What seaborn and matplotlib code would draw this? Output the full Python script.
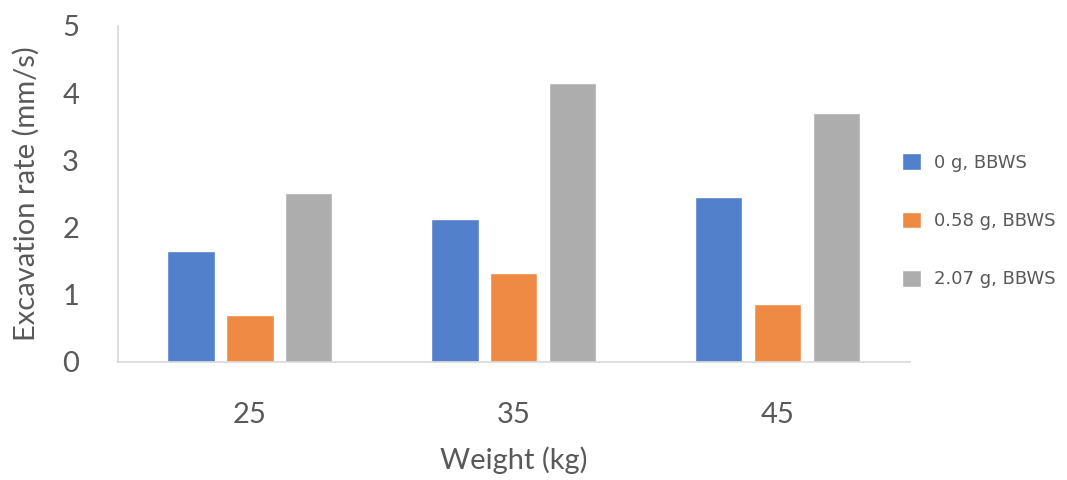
import matplotlib
matplotlib.use("Agg")
import matplotlib.pyplot as plt
import seaborn as sns
import pandas as pd

weights = ["25", "35", "45"]
series = ["0 g, BBWS", "0.58 g, BBWS", "2.07 g, BBWS"]
vals_0 = [1.65, 2.12, 2.45]
vals_058 = [0.70, 1.33, 0.86]
vals_207 = [2.52, 4.15, 3.70]
colors = ["#5380cb", "#ef8a45", "#adadad"]

rows = []
for s, v in zip(series, [vals_0, vals_058, vals_207]):
    for w, val in zip(weights, v):
        rows.append({"Weight": w, "Series": s, "Rate": val})
df = pd.DataFrame(rows)

sns.set_theme(style="white")
plt.rcParams["font.family"] = ["Lato", "DejaVu Sans"]
txt = "#595959"

fig = plt.figure(figsize=(10.67, 4.8), dpi=100)
ax = fig.add_axes([0.1106, 0.246, 0.742, 0.700])
sns.barplot(data=df, x="Weight", y="Rate", hue="Series", order=weights,
            hue_order=series, palette=colors, width=0.67, gap=0.2,
            saturation=1, ax=ax, legend=True)

ax.set_ylim(0, 5)
ax.set_xlim(-0.5, 2.5)
ax.set_yticks([0, 1, 2, 3, 4, 5])
for sp in ["top", "right"]:
    ax.spines[sp].set_visible(False)
for sp in ["left", "bottom"]:
    ax.spines[sp].set_color("#d9d9d9")
    ax.spines[sp].set_linewidth(1.2)
ax.tick_params(axis="y", length=0, pad=28, labelsize=21, labelcolor=txt)
ax.tick_params(axis="x", length=0, pad=29, labelsize=21, labelcolor=txt)
ax.set_ylabel("Excavation rate (mm/s)", fontsize=21, color=txt, labelpad=16)
ax.set_xlabel("Weight (kg)", fontsize=21, color=txt, labelpad=13)

handles, labels = ax.get_legend_handles_labels()
ax.legend(handles, labels, loc="center left", bbox_to_anchor=(0.99, 0.42),
          frameon=False, borderpad=0, borderaxespad=0,
          handlelength=1.05, handleheight=1.05,
          handletextpad=0.75, labelspacing=2.2,
          prop={"family": "DejaVu Sans", "size": 13}, labelcolor=txt)

fig.savefig("out.png", dpi=100)
